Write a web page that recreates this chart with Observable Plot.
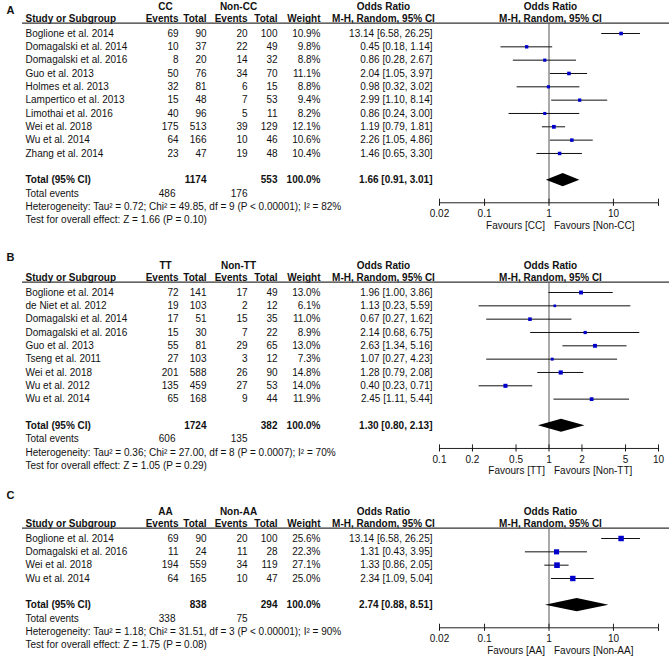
<!DOCTYPE html>
<html><head><meta charset="utf-8">
<script src="https://cdn.jsdelivr.net/npm/d3@7"></script>
<script src="https://cdn.jsdelivr.net/npm/@observablehq/plot@0.6"></script>
<style>
body{margin:0;background:#fff;}
#chart{position:relative;width:669px;height:657px;overflow:hidden;background:#fff;}
#chart svg{position:absolute;left:0;}
</style></head><body><div id="chart"></div>
<script>
// ---------- Panel A : CC vs Non-CC ----------
const studiesA = ["Boglione et al. 2014","Domagalski et al. 2014","Domagalski et al. 2016","Guo et al. 2013","Holmes et al. 2013","Lampertico et al. 2013","Limothai et al. 2016","Wei et al. 2018","Wu et al. 2014","Zhang et al. 2014"];
const eventsA1 = [69,10,8,50,32,15,40,175,64,23];
const totalA1 = [90,37,20,76,81,48,96,513,166,47];
const eventsA2 = [20,22,14,34,6,7,5,39,10,19];
const totalA2 = [100,49,32,70,15,53,11,129,46,48];
const weightA = [10.9,9.8,8.8,11.1,8.8,9.4,8.2,12.1,10.6,10.4];
const orA = [13.14,0.45,0.86,2.04,0.98,2.99,0.86,1.19,2.26,1.46];
const loA = [6.58,0.18,0.28,1.05,0.32,1.10,0.24,0.79,1.05,0.65];
const hiA = [26.25,1.14,2.67,3.97,3.02,8.14,3.00,1.81,4.86,3.30];
const pooledA = [1.66,0.91,3.01];
const hetA = "Heterogeneity: Tau² = 0.72; Chi² = 49.85, df = 9 (P < 0.00001); I² = 82%";
const testA = "Test for overall effect: Z = 1.66 (P = 0.10)";
const ticksA = [0.02,0.1,1,10,50];

// ---------- Panel B : TT vs Non-TT ----------
const studiesB = ["Boglione et al. 2014","de Niet et al. 2012","Domagalski et al. 2014","Domagalski et al. 2016","Guo et al. 2013","Tseng et al. 2011","Wei et al. 2018","Wu et al. 2012","Wu et al. 2014"];
const eventsB1 = [72,19,17,15,55,27,201,135,65];
const totalB1 = [141,103,51,30,81,103,588,459,168];
const eventsB2 = [17,2,15,7,29,3,26,27,9];
const totalB2 = [49,12,35,22,65,12,90,53,44];
const weightB = [13.0,6.1,11.0,8.9,13.0,7.3,14.8,14.0,11.9];
const orB = [1.96,1.13,0.67,2.14,2.63,1.07,1.28,0.40,2.45];
const loB = [1.00,0.23,0.27,0.68,1.34,0.27,0.79,0.23,1.11];
const hiB = [3.86,5.59,1.62,6.75,5.16,4.23,2.08,0.71,5.44];
const pooledB = [1.30,0.80,2.13];
const hetB = "Heterogeneity: Tau² = 0.36; Chi² = 27.00, df = 8 (P = 0.0007); I² = 70%";
const testB = "Test for overall effect: Z = 1.05 (P = 0.29)";
const ticksB = [0.1,0.2,0.5,1,2,5,10];

// ---------- Panel C : AA vs Non-AA ----------
const studiesC = ["Boglione et al. 2014","Domagalski et al. 2016","Wei et al. 2018","Wu et al. 2014"];
const eventsC1 = [69,11,194,64];
const totalC1 = [90,24,559,165];
const eventsC2 = [20,11,34,10];
const totalC2 = [100,28,119,47];
const weightC = [25.6,22.3,27.1,25.0];
const orC = [13.14,1.31,1.33,2.34];
const loC = [6.58,0.43,0.86,1.09];
const hiC = [26.25,3.95,2.05,5.04];
const pooledC = [2.74,0.88,8.51];
const hetC = "Heterogeneity: Tau² = 1.18; Chi² = 31.51, df = 3 (P < 0.00001); I² = 90%";
const testC = "Test for overall effect: Z = 1.75 (P = 0.08)";
const ticksC = [0.02,0.1,1,10,50];

const totalWeightLabel = "100.0%";

// ---------- layout ----------
const FONT = '"Liberation Sans", Arial, Helvetica, sans-serif';
const Y0 = 50, STEP = 13.33;
const COL = {label:10, study:25, ev1:178, tot1:206, ev2:247, tot2:277, weight:320, orTxt:432,
             grp1:165, grp2:238, orHead:383, fHead:550, lineStart:22, lineEnd:669, totEv1:175};
const fmtCI = (o,l,h) => `${o.toFixed(2)} [${l.toFixed(2)}, ${h.toFixed(2)}]`;

const panels = [
  {label:"A", top:-17.5, height:255, labelRow:-1.7, g1:"CC", g2:"Non-CC",
   studies:studiesA, ev1:eventsA1, tot1:totalA1, ev2:eventsA2, tot2:totalA2, w:weightA, or:orA, lo:loA, hi:hiA,
   pooled:pooledA, het:hetA, test:testA, ticks:ticksA, xdom:[0.02,50]},
  {label:"B", top:241.5, height:238, labelRow:-2.6, g1:"TT", g2:"Non-TT",
   studies:studiesB, ev1:eventsB1, tot1:totalB1, ev2:eventsB2, tot2:totalB2, w:weightB, or:orB, lo:loB, hi:hiB,
   pooled:pooledB, het:hetB, test:testB, ticks:ticksB, xdom:[0.1,10]},
  {label:"C", top:488, height:172, labelRow:-3.2, g1:"AA", g2:"Non-AA",
   studies:studiesC, ev1:eventsC1, tot1:totalC1, ev2:eventsC2, tot2:totalC2, w:weightC, or:orC, lo:loC, hi:hiC,
   pooled:pooledC, het:hetC, test:testC, ticks:ticksC, xdom:[0.02,50]}
];

const chart = document.getElementById("chart");
const style = {fontFamily: FONT, fontSize: "10px", color: "#111", background: "transparent", overflow: "visible"};
const yOpt = {type:"linear", domain:[0,1], range:[Y0, Y0+STEP], axis:null};

for (const p of panels) {
  const n = p.studies.length;
  const rows = p.studies.map((s,i) => ({r:i, study:s, ev1:p.ev1[i], tot1:p.tot1[i], ev2:p.ev2[i], tot2:p.tot2[i],
    w:p.w[i], or:p.or[i], lo:p.lo[i], hi:p.hi[i]}));
  const totalRow = n + 1, eventsRow = n + 2, hetRow = n + 3, testRow = n + 4;
  const axisRow = totalRow + 1.7, favRow = axisRow + 1.7;
  const H = -2, H2 = -1.1, LINE = -0.78;
  const bold = {fontWeight:"bold"};
  const T = (arr, o) => Plot.text(arr, {text: d => d, ...o});

  // ----- table part -----
  const table = Plot.plot({
    width: 669, height: p.height, margin: 0, style,
    x: {type:"identity", axis: null}, y: yOpt,
    marks: [
      T([p.label], {x: COL.label, y: p.labelRow, fontWeight:"bold", fontSize: 11}),
      T([p.g1], {x: COL.grp1, y: H, ...bold}),
      T([p.g2], {x: COL.grp2, y: H, ...bold}),
      T(["Odds Ratio"], {x: COL.orHead, y: H, ...bold}),
      T(["Odds Ratio"], {x: COL.fHead, y: H, ...bold}),
      T(["Study or Subgroup"], {x: COL.study, y: H2, textAnchor:"start", ...bold}),
      T(["Events"], {x: COL.ev1, y: H2, textAnchor:"end", ...bold}),
      T(["Total"], {x: COL.tot1, y: H2, textAnchor:"end", ...bold}),
      T(["Events"], {x: COL.ev2, y: H2, textAnchor:"end", ...bold}),
      T(["Total"], {x: COL.tot2, y: H2, textAnchor:"end", ...bold}),
      T(["Weight"], {x: COL.weight, y: H2, textAnchor:"end", ...bold}),
      T(["M-H, Random, 95% CI"], {x: COL.orHead, y: H2, ...bold}),
      T(["M-H, Random, 95% CI"], {x: COL.fHead, y: H2, ...bold}),
      Plot.ruleY([LINE], {x1: COL.lineStart, x2: COL.lineEnd, stroke:"#333", strokeWidth:1.4}),
      Plot.text(rows, {x: COL.study, y:"r", text:"study", textAnchor:"start"}),
      Plot.text(rows, {x: COL.ev1, y:"r", text:"ev1", textAnchor:"end"}),
      Plot.text(rows, {x: COL.tot1, y:"r", text:"tot1", textAnchor:"end"}),
      Plot.text(rows, {x: COL.ev2, y:"r", text:"ev2", textAnchor:"end"}),
      Plot.text(rows, {x: COL.tot2, y:"r", text:"tot2", textAnchor:"end"}),
      Plot.text(rows, {x: COL.weight, y:"r", text: d => d.w.toFixed(1) + "%", textAnchor:"end"}),
      Plot.text(rows, {x: COL.orTxt, y:"r", text: d => fmtCI(d.or, d.lo, d.hi), textAnchor:"end"}),
      T(["Total (95% CI)"], {x: COL.study, y: totalRow, textAnchor:"start", ...bold}),
      T([String(d3.sum(p.tot1))], {x: COL.tot1, y: totalRow, textAnchor:"end", ...bold}),
      T([String(d3.sum(p.tot2))], {x: COL.tot2, y: totalRow, textAnchor:"end", ...bold}),
      T([totalWeightLabel], {x: COL.weight, y: totalRow, textAnchor:"end", ...bold}),
      T([fmtCI(...p.pooled)], {x: COL.orTxt, y: totalRow, textAnchor:"end", ...bold}),
      T(["Total events"], {x: COL.study, y: eventsRow, textAnchor:"start"}),
      T([String(d3.sum(p.ev1))], {x: COL.totEv1, y: eventsRow, textAnchor:"end"}),
      T([String(d3.sum(p.ev2))], {x: COL.ev2, y: eventsRow, textAnchor:"end"}),
      T([p.het], {x: COL.study, y: hetRow, textAnchor:"start"}),
      T([p.test], {x: COL.study, y: testRow, textAnchor:"start"})
    ]
  });
  table.style.top = p.top + "px";
  chart.appendChild(table);

  // ----- forest part -----
  const axisPx = Y0 + STEP * axisRow;
  const [po, pl, ph] = p.pooled;
  const diamond = [
    {x: pl, y1: totalRow, y2: totalRow},
    {x: po, y1: totalRow - 0.49, y2: totalRow + 0.49},
    {x: ph, y1: totalRow, y2: totalRow}
  ];
  const forest = Plot.plot({
    width: 669, height: p.height, marginTop: 0, marginLeft: 0, marginRight: 0,
    marginBottom: p.height - axisPx, style,
    x: {type:"log", domain: p.xdom, range:[439, 658]},
    y: yOpt,
    r: {type:"sqrt", domain:[0,100], range:[0, 6.1]},
    marks: [
      Plot.ruleX([1], {y1: LINE, y2: axisRow, stroke:"#555", strokeWidth:1}),
      Plot.ruleY(rows, {y:"r", x1:"lo", x2:"hi", stroke:"#111", strokeWidth:1}),
      Plot.dot(rows, {x:"or", y:"r", r:"w", symbol:"square", fill:"#0000cc", stroke:null}),
      Plot.areaY(diamond, {x:"x", y1:"y1", y2:"y2", fill:"#000"}),
      Plot.ruleY([axisRow], {x1: p.xdom[0], x2: p.xdom[1], stroke:"#222", strokeWidth:1}),
      Plot.ruleX(p.ticks, {x: d => d, y1: axisRow - 0.27, y2: axisRow, stroke:"#222"}),
      Plot.axisX({ticks: p.ticks, tickSize: 3.5, tickPadding: 3.5, tickFormat: d => String(d), label: null}),
      T([`Favours [${p.g1}]`], {x: 1, y: favRow, textAnchor:"end", dx: -4}),
      T([`Favours [${p.g2}]`], {x: 1, y: favRow, textAnchor:"start", dx: 5})
    ]
  });
  forest.style.top = p.top + "px";
  chart.appendChild(forest);
}
</script></body></html>
